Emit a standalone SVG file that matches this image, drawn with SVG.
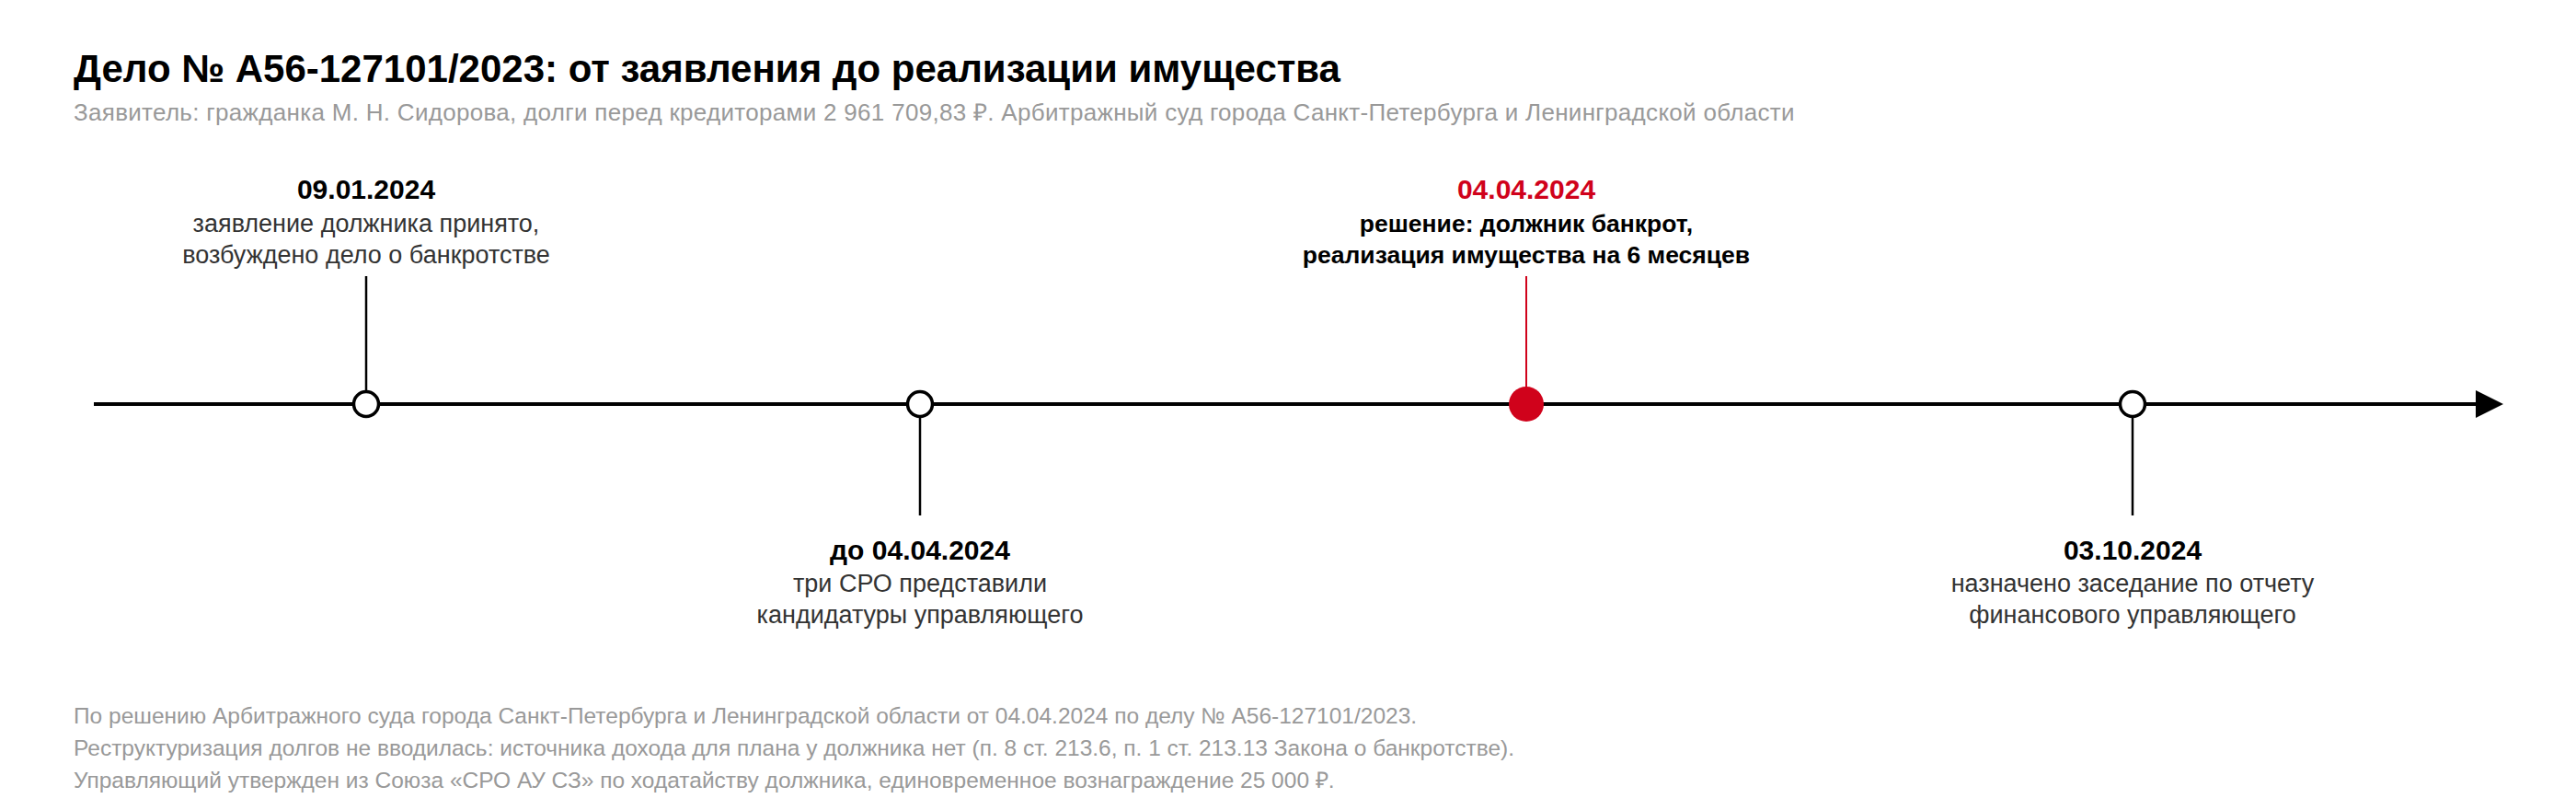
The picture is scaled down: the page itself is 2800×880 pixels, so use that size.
<svg xmlns="http://www.w3.org/2000/svg" width="2800" height="880" viewBox="0 0 2800 880">
<style>
text{font-family:"Liberation Sans",Arial,sans-serif}
.title{font-size:42px;font-weight:700;fill:#000}
.sub{font-size:26px;letter-spacing:0.3px;fill:#999}
.foot{font-size:24.5px;fill:#999}
.date{font-size:30px;font-weight:700;fill:#000;text-anchor:middle}
.desc{font-size:27px;fill:#333;text-anchor:middle}
.descb{font-size:26.5px;font-weight:700;fill:#000;text-anchor:middle}
.red{fill:#d0021b}
.stem{stroke:#000;stroke-width:2.5}
.ring{fill:#fff;stroke:#000;stroke-width:3.5}
</style>
<defs>
<marker id="arr" markerWidth="32" markerHeight="32" refX="0" refY="16" orient="auto" markerUnits="userSpaceOnUse">
<path d="M0,1 L30,16 L0,31 Z" fill="#000"/>
</marker>
</defs>
<rect width="2800" height="880" fill="#fff"/>
<text class="title" x="80" y="89">Дело № А56-127101/2023: от заявления до реализации имущества</text>
<text class="sub" x="80" y="131">Заявитель: гражданка М. Н. Сидорова, долги перед кредиторами 2 961 709,83 ₽. Арбитражный суд города Санкт-Петербурга и Ленинградской области</text>
<g id="connectors">
<line x1="102" y1="439" x2="2691" y2="439" stroke="#000" stroke-width="4" marker-end="url(#arr)"/>
<line class="stem" x1="398" y1="300" x2="398" y2="425"/>
<line class="stem" x1="1000" y1="453" x2="1000" y2="560"/>
<line x1="1659" y1="300" x2="1659" y2="421" stroke="#d0021b" stroke-width="2"/>
<line class="stem" x1="2318" y1="453" x2="2318" y2="560"/>
</g>
<g id="n1">
<circle class="ring" cx="398" cy="439" r="13.5"/>
<text class="date" x="398" y="216">09.01.2024</text>
<text class="desc" x="398" y="252">заявление должника принято,</text>
<text class="desc" x="398" y="286">возбуждено дело о банкротстве</text>
</g>
<g id="n2">
<circle class="ring" cx="1000" cy="439" r="13.5"/>
<text class="date" x="1000" y="608">до 04.04.2024</text>
<text class="desc" x="1000" y="643">три СРО представили</text>
<text class="desc" x="1000" y="677">кандидатуры управляющего</text>
</g>
<g id="n3">
<circle cx="1659" cy="439" r="19" fill="#d0021b"/>
<text class="date red" x="1659" y="216">04.04.2024</text>
<text class="descb" x="1659" y="252">решение: должник банкрот,</text>
<text class="descb" x="1659" y="286">реализация имущества на 6 месяцев</text>
</g>
<g id="n4">
<circle class="ring" cx="2318" cy="439" r="13.5"/>
<text class="date" x="2318" y="608">03.10.2024</text>
<text class="desc" x="2318" y="643">назначено заседание по отчету</text>
<text class="desc" x="2318" y="677">финансового управляющего</text>
</g>
<text class="foot" x="80" y="786">По решению Арбитражного суда города Санкт-Петербурга и Ленинградской области от 04.04.2024 по делу № А56-127101/2023.</text>
<text class="foot" x="80" y="821">Реструктуризация долгов не вводилась: источника дохода для плана у должника нет (п. 8 ст. 213.6, п. 1 ст. 213.13 Закона о банкротстве).</text>
<text class="foot" x="80" y="856">Управляющий утвержден из Союза «СРО АУ СЗ» по ходатайству должника, единовременное вознаграждение 25 000 ₽.</text>
</svg>
